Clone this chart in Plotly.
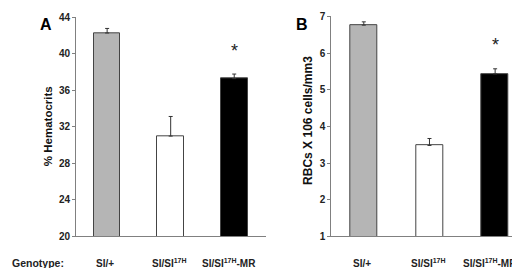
import plotly.graph_objects as go

categories = ["SI/+", "SI/SI<sup>17H</sup>", "SI/SI<sup>17H</sup>-MR"]
hematocrit = [42.3, 31.0, 37.3]
hematocrit_err = [0.5, 2.15, 0.5]
rbc = [6.76, 3.48, 5.43]
rbc_err = [0.09, 0.19, 0.14]
bar_colors = ["#b5b5b5", "#ffffff", "#000000"]
yticks_a = [20, 24, 28, 32, 36, 40, 44]
yticks_b = [1, 2, 3, 4, 5, 6, 7]

W, H = 520, 268
FONT = "Liberation Sans, Arial, sans-serif"

fig = go.Figure()
xs = [0, 1, 2]

fig.add_trace(go.Bar(
    x=xs, y=hematocrit, width=0.42,
    marker=dict(color=bar_colors, line=dict(color="#444444", width=1)),
    error_y=dict(type="data", array=hematocrit_err, arrayminus=[0, 0, 0], symmetric=False,
                 color="#333333", thickness=1, width=2),
    xaxis="x", yaxis="y", showlegend=False))
fig.add_trace(go.Bar(
    x=xs, y=rbc, width=0.41,
    marker=dict(color=bar_colors, line=dict(color="#444444", width=1)),
    error_y=dict(type="data", array=rbc_err, arrayminus=[0, 0, 0], symmetric=False,
                 color="#333333", thickness=1, width=2),
    xaxis="x2", yaxis="y2", showlegend=False))

axis_common = dict(showline=True, linecolor="#808080", linewidth=1, showgrid=False,
                   zeroline=False, ticklabeloverflow="allow")
tickfont = dict(family=FONT, size=10, color="#222222", weight="bold")
labelfont = dict(family=FONT, size=10, color="#222222", weight="bold")

ybot = (H - 233) / H
fig.update_layout(
    width=W, height=H, margin=dict(l=0, r=0, t=0, b=0),
    paper_bgcolor="white", plot_bgcolor="white", bargap=0,
    xaxis=dict(domain=[68 / W, 258 / W], range=[-0.49, 2.5], tickvals=xs, showticklabels=False,
               ticks="", anchor="y", **axis_common),
    yaxis=dict(domain=[ybot, (H - 4.5) / H], range=[20, 44.02], tickvals=yticks_a, ticks="outside",
               ticklen=3, tickcolor="#808080", tickfont=tickfont, anchor="x", **axis_common),
    xaxis2=dict(domain=[323.3 / W, 518 / W], range=[-0.495, 2.47], tickvals=xs, showticklabels=False,
                ticks="", anchor="y2", **axis_common),
    yaxis2=dict(domain=[ybot, (H - 3.3) / H], range=[1, 7.005], tickvals=yticks_b, ticks="outside",
                ticklen=3, tickcolor="#808080", tickfont=tickfont, anchor="x2", **axis_common),
)

ann = []
label_y = (H - 261) / H
for xref in ["x", "x2"]:
    for i, lab in enumerate(categories):
        shift = [-2, -1, -5][i]
        ann.append(dict(text=lab, xref=xref, yref="paper", x=xs[i], y=label_y, xshift=shift,
                        xanchor="center", yanchor="middle", showarrow=False, font=labelfont))
ann.append(dict(text="A", xref="paper", yref="paper", x=30 / W, y=(H - 1) / H, xanchor="left", yanchor="top",
                showarrow=False, font=dict(family=FONT, size=16, color="#000", weight="bold")))
ann.append(dict(text="B", xref="paper", yref="paper", x=286 / W, y=(H - 1) / H, xanchor="left", yanchor="top",
                showarrow=False, font=dict(family=FONT, size=16, color="#000", weight="bold")))
ann.append(dict(text="% Hematocrits", xref="paper", yref="paper", x=40 / W, y=(H - 118) / H, textangle=-90,
                xanchor="center", yanchor="middle", showarrow=False,
                font=dict(family=FONT, size=11.5, color="#111", weight="bold")))
ann.append(dict(text="RBCs X 106 cells/mm3", xref="paper", yref="paper", x=300 / W, y=(H - 112.5) / H, textangle=-90,
                xanchor="center", yanchor="middle", showarrow=False,
                font=dict(family=FONT, size=12, color="#111", weight="bold")))
ann.append(dict(text="Genotype:", xref="paper", yref="paper", x=2 / W, y=label_y,
                xanchor="left", yanchor="middle", showarrow=False,
                font=dict(family=FONT, size=10.5, color="#222", weight="bold")))
ann.append(dict(text="*", xref="x", yref="y", x=2, y=hematocrit[2] + hematocrit_err[2], yshift=11,
                xanchor="center", yanchor="bottom", showarrow=False,
                font=dict(family=FONT, size=18, color="#222")))
ann.append(dict(text="*", xref="x2", yref="y2", x=2, y=rbc[2] + rbc_err[2], yshift=12,
                xanchor="center", yanchor="bottom", showarrow=False,
                font=dict(family=FONT, size=18, color="#222")))
fig.update_layout(annotations=ann)

fig.write_html("out.html")
